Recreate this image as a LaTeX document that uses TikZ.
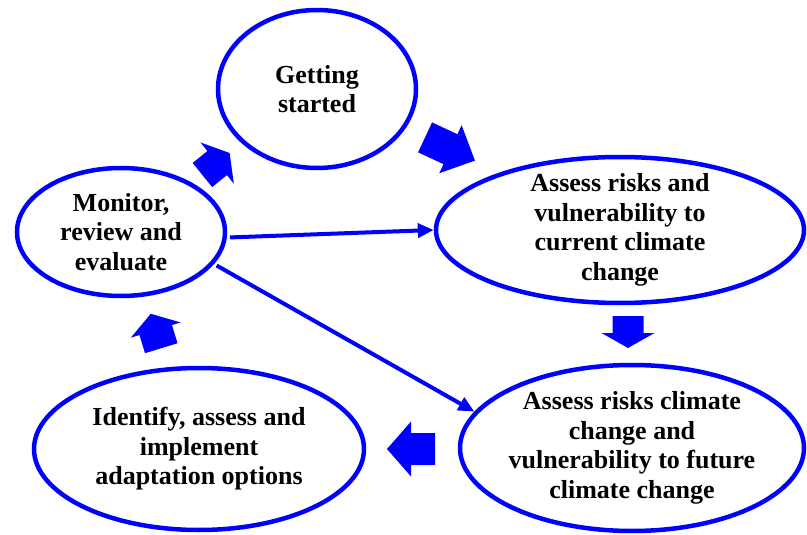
\documentclass[tikz,border=0pt]{standalone}
\usepackage{fontspec}
\setmainfont{Liberation Serif}
\usetikzlibrary{shapes.geometric,arrows.meta}
\definecolor{cblue}{RGB}{0,0,255}
\tikzset{
  stage/.style={ellipse, draw=cblue, line width=4.5pt, inner sep=0pt},
  stagetext/.style={align=center, inner sep=0pt, text=black,
    font=\fontsize{26}{29.5}\selectfont\bfseries},
  flow/.style={draw=cblue, line width=4pt, shorten <=3pt,
    -{Triangle[length=16pt,width=14pt]}},
  blockfill/.style={fill=cblue}
}
% x y angle length headlength tailwidth headwidth
\newcommand\blockarr[7]{\fill[blockfill, shift={(#1,#2)}, rotate=#3]
  ({-#4/2},{-#6/2}) -- ({#4/2-#5},{-#6/2}) -- ({#4/2-#5},{-#7/2}) --
  ({#4/2},0) -- ({#4/2-#5},{#7/2}) -- ({#4/2-#5},{#6/2}) --
  ({-#4/2},{#6/2}) -- cycle;}
\begin{document}
\begin{tikzpicture}[x=1pt,y=-1pt]
\useasboundingbox (0,0) rectangle (807,535);
\node[stage, minimum width=198pt, minimum height=158pt,
  label={[stagetext]center:Getting\\started}] (gs) at (317,89) {};
\node[stage, minimum width=208pt, minimum height=128pt,
  label={[stagetext]center:Monitor,\\review and\\evaluate}] (mon) at (121,232) {};
\node[stage, minimum width=368pt, minimum height=146pt,
  label={[stagetext]center:Assess risks and\\vulnerability to\\current climate\\change}] (a1) at (620,230) {};
\node[stage, minimum width=344pt, minimum height=166pt,
  label={[stagetext]center:Assess risks climate\\change and\\vulnerability to future\\climate change}] (a2) at (632,448) {};
\node[stage, minimum width=330pt, minimum height=162pt,
  label={[stagetext]center:Identify, assess and\\implement\\adaptation options}] (id) at (199,449) {};

\draw[flow] (mon.-3) -- (a1.180);
\draw[flow] (mon.-19) -- (a2.167);

\blockarr{450}{149}{-25}{55}{27}{33}{53}
\blockarr{216}{164}{39}{35}{16}{31}{53}
\blockarr{628}{332}{-90}{32}{15}{31}{53}
\blockarr{411}{449}{180}{48}{24}{32}{55}
\blockarr{156}{331}{107}{36}{17}{34}{52}
\end{tikzpicture}
\end{document}
